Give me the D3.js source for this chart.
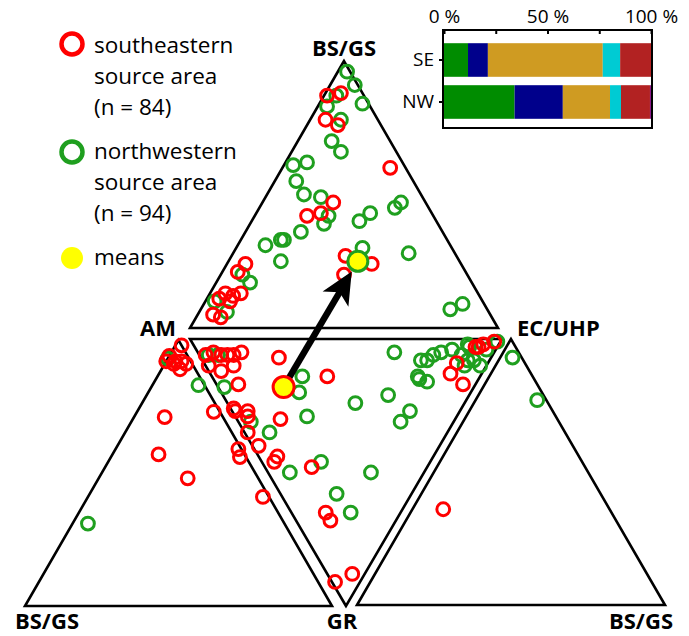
<!DOCTYPE html>
<html><head><meta charset="utf-8">
<script src="https://cdn.jsdelivr.net/npm/d3@7"></script>
<style>body{margin:0;background:#fff} svg{display:block}</style>
</head><body>
<svg id="c" width="689" height="636"></svg>
<script>
// ---- Ternary data, each row = [apex, base-left, base-right] in % of the face's vertices ----
// top face: [BS/GS, AM, EC/UHP]
const topNW = [[96,1,3],[91,1,8],[87,9,4],[83,14,3],[84,2,14],[78,12,10],[70,19,11],[66,18,16],[61,36,3],[62,31,7],[55,38,7],[50,38,12],[49,33,18],[42,34,24],[39,37,24],[43,20,37],[40,25,35],[47,8,45],[45,11,44],[36,46,18],[33,54,13],[33,53,14],[31,60,9],[25,58,17],[30,29,41],[28,15,57],[9,7,84],[7,12,81],[20,73,7],[17,72,11],[10,87,3],[6,85,9]];
const topSE = [[87,12,1],[88,7,5],[78,17,5],[76,14,10],[60,5,35],[47,30,23],[43,36,21],[42,41,17],[27,36,37],[24,29,47],[20,40,40],[24,70,6],[21,74,5],[13,77,10],[12,80,8],[13,82,5],[11,85,4],[10,82,8],[5,90,5],[4,88,8]];
// middle (inverted) face: [GR, AM, EC/UHP]
const midNW = [[6,91,3],[6,88,6],[18,80,2],[14,57,29],[20,55,25],[29,48,23],[31,65,4],[35,57,8],[50,43,7],[46,35,19],[58,24,18],[65,16,19],[50,17,33],[24,35,41],[5,32,63],[21,26,53],[27,16,57],[31,17,52],[15,19,66],[16,16,68],[14,20,66],[8,22,70],[8,20,72],[6,19,75],[5,17,78],[4,14,82],[6,10,84],[2,10,88],[8,7,85],[8,5,87],[10,2,88],[4,3,93],[1,1,98],[10,7,83],[3,9,88]];
const midSE = [[6,92,2],[5,90,5],[6,87,7],[6,85,9],[6,83,11],[5,81,14],[10,81,9],[12,84,4],[10,89,1],[17,76,7],[7,68,25],[14,49,37],[26,73,1],[27,72,1],[27,68,5],[29,67,4],[35,64,1],[40,58,2],[30,56,14],[44,50,6],[46,50,4],[48,37,15],[65,24,11],[68,21,11],[91,8,1],[88,4,8],[13,10,77],[9,10,81],[17,4,79],[3,7,90],[2,5,93],[1,2,97],[3,6,91]];
// left face: [AM, BS/GS, GR]
const leftNW = [[93,7,0],[83,2,15],[31,64,5]];
const leftSE = [[98,0,2],[94,6,0],[92,3,5],[91,6,3],[91,2,7],[89,5,6],[92,5,3],[92,8,0],[71,19,10],[73,2,25],[57,28,15],[48,23,29],[41,2,57],[59,1,40],[56,2,42]];
// right face: [EC/UHP, GR, BS/GS]
const rightNW = [[93,3,4],[77,3,20]];
const rightSE = [[36,54,10]];
// means
const meanSE = [18,61,21];   // in middle face
const meanNW = [25,33,42];   // in top face

// ---- bar chart data (% of grains) ----
const barGroups = ["SE","NW"];
const barKeys = ["g1","g2","g3","g4","g5","g6"];
const seShares = [11.6, 9.6, 55.5, 8.4, 14.9, 0];
const nwShares = [34.1, 23.3, 22.8, 5.3, 14.0, 0.5];
const barColors = ["#008c00","#00008b","#cf9b22","#00cbd3","#b22222","#8b1a8b"];
const barTicks = [0,25,50,75,100];

const RED = "#ff0000", GREEN = "#1f9f1f", YELLOW = "#ffff00";
const svg = d3.select("#c");

// ---- face layout ----
const faces = {
  top:   {verts:["BS/GS","AM","EC/UHP"], xr:[190,498], yr:[328,61]},
  mid:   {verts:["GR","AM","EC/UHP"],    xr:[190,502], yr:[339,606]},
  left:  {verts:["AM","BS/GS","GR"],     xr:[25,332],  yr:[606,340]},
  right: {verts:["EC/UHP","GR","BS/GS"], xr:[357,665], yr:[605,339]}
};
for (const k in faces) {
  const f = faces[k];
  f.x = d3.scaleLinear().domain([0,1]).range(f.xr);
  f.y = d3.scaleLinear().domain([0,1]).range(f.yr);
  f.pos = v => { const a=v[0]/100, c=v[2]/100; return [f.x(c + a/2), f.y(a)]; };
}

// triangles
const gTri = svg.append("g");
for (const k in faces) {
  const f = faces[k];
  const pts = [[f.x(0.5), f.y(1)], [f.x(0), f.y(0)], [f.x(1), f.y(0)]];
  gTri.append("path").attr("d", d3.line()(pts) + "Z")
    .attr("fill","none").attr("stroke","#000").attr("stroke-width",2.6)
    .attr("stroke-linejoin","miter");
}

// vertex labels
const lab = svg.append("g").attr("font-family","'Open Sans', sans-serif")
  .attr("font-weight","bold").attr("font-size",22).attr("fill","#000");
lab.append("text").attr("x",344).attr("y",56).attr("text-anchor","middle").text("BS/GS");
lab.append("text").attr("x",176).attr("y",336).attr("text-anchor","end").text("AM");
lab.append("text").attr("x",517).attr("y",336).text("EC/UHP");
lab.append("text").attr("x",47).attr("y",629).attr("text-anchor","middle").text("BS/GS");
lab.append("text").attr("x",342).attr("y",629).attr("text-anchor","middle").text("GR");
lab.append("text").attr("x",641).attr("y",629).attr("text-anchor","middle").text("BS/GS");

// points
const gPts = svg.append("g").attr("fill","none").attr("stroke-width",3);
function drawPts(face, data, color) {
  const f = faces[face];
  gPts.selectAll(null).data(data).enter().append("circle")
    .attr("cx", d => f.pos(d)[0]).attr("cy", d => f.pos(d)[1])
    .attr("r", 6.4).attr("stroke", color);
}
drawPts("top", topNW, GREEN); drawPts("mid", midNW, GREEN);
drawPts("left", leftNW, GREEN); drawPts("right", rightNW, GREEN);
drawPts("top", topSE, RED); drawPts("mid", midSE, RED);
drawPts("left", leftSE, RED); drawPts("right", rightSE, RED);

// arrow between means
const pSE = faces.mid.pos(meanSE), pNW = faces.top.pos(meanNW);
const dx = pNW[0]-pSE[0], dy = pNW[1]-pSE[1], L = Math.hypot(dx,dy);
const ux = dx/L, uy = dy/L, px = -uy, py = ux;
const tip = [pNW[0]-12*ux, pNW[1]-12*uy];
const back = 32, half = 15, notch = 24;
const w1 = [tip[0]-back*ux+half*px, tip[1]-back*uy+half*py];
const w2 = [tip[0]-back*ux-half*px, tip[1]-back*uy-half*py];
const nt = [tip[0]-notch*ux, tip[1]-notch*uy];
svg.append("line").attr("x1",pSE[0]).attr("y1",pSE[1]).attr("x2",nt[0]+2*ux).attr("y2",nt[1]+2*uy)
  .attr("stroke","#000").attr("stroke-width",6.5);
svg.append("path").attr("d", d3.line()([tip,w1,nt,w2])+"Z").attr("fill","#000");

svg.append("circle").attr("cx",pSE[0]).attr("cy",pSE[1]).attr("r",10.5)
  .attr("fill",YELLOW).attr("stroke",RED).attr("stroke-width",3);
svg.append("circle").attr("cx",pNW[0]).attr("cy",pNW[1]).attr("r",10)
  .attr("fill",YELLOW).attr("stroke",GREEN).attr("stroke-width",3);

// legend
const leg = svg.append("g").attr("font-family","'Open Sans', sans-serif").attr("font-size",22.5).attr("fill","#000");
leg.append("circle").attr("cx",72).attr("cy",44).attr("r",10.5).attr("fill","none").attr("stroke",RED).attr("stroke-width",4.5);
leg.append("circle").attr("cx",72).attr("cy",152).attr("r",10.5).attr("fill","none").attr("stroke",GREEN).attr("stroke-width",4.5);
leg.append("circle").attr("cx",72).attr("cy",258).attr("r",11).attr("fill",YELLOW);
[["southeastern",53],["source area",84],["(n = 84)",115],["northwestern",159],["source area",190],["(n = 94)",221],["means",265]]
  .forEach(([t,y]) => leg.append("text").attr("x",94).attr("y",y).text(t));

// ---- stacked bar chart ----
const bx = d3.scaleLinear().domain([0,100]).range([444,651]);
const by = d3.scaleBand().domain(barGroups).range([39,123]).paddingInner(0.2).paddingOuter(0.1);
const rows = [seShares, nwShares].map((s,i) => { const o={grp:barGroups[i]}; barKeys.forEach((k,j)=>o[k]=s[j]); return o; });
const stack = d3.stack().keys(barKeys)(rows);
const gb = svg.append("g");
gb.selectAll("g").data(stack).enter().append("g").attr("fill",(d,i)=>barColors[i])
  .selectAll("rect").data(d=>d).enter().append("rect")
  .attr("x",d=>bx(d[0])).attr("width",d=>Math.max(0,bx(d[1])-bx(d[0])))
  .attr("y",d=>by(d.data.grp)).attr("height",by.bandwidth());
gb.append("rect").attr("x",443).attr("y",30).attr("width",209).attr("height",98)
  .attr("fill","none").attr("stroke","#000").attr("stroke-width",2);
const ax = gb.append("g").attr("transform","translate(0,30)")
  .call(d3.axisTop(bx).tickValues(barTicks).tickSizeInner(-4).tickSizeOuter(0).tickPadding(7)
    .tickFormat(d => d % 50 === 0 ? d + " %" : ""));
const ay = gb.append("g").attr("transform","translate(443,0)")
  .call(d3.axisLeft(by).tickSizeInner(4).tickSizeOuter(0).tickPadding(5));
[ax, ay].forEach(a => {
  a.select(".domain").remove();
  a.selectAll(".tick line").attr("stroke","#000").attr("stroke-width",2);
  a.selectAll("text").attr("font-family","'Open Sans', sans-serif").attr("font-size",19).attr("fill","#000");
});
</script>
</body></html>
